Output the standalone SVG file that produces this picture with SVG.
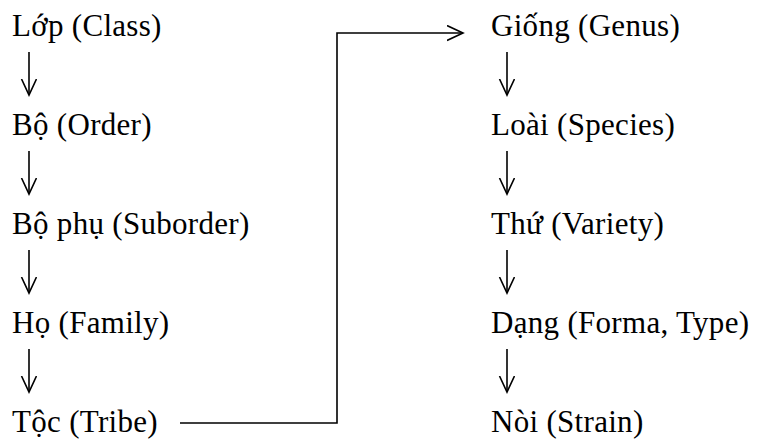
<svg xmlns="http://www.w3.org/2000/svg" width="757" height="440" viewBox="0 0 757 440">
<style>
.t{font-family:'Liberation Serif','Times New Roman',serif;font-size:31px;letter-spacing:0.3px;fill:#000}
.c{fill:none;stroke:#000;stroke-width:1.6}
</style>
<defs>
<marker id="ah" markerWidth="18" markerHeight="18" refX="16" refY="8" orient="auto" markerUnits="userSpaceOnUse">
<path d="M0,0.5 L16,8 L0,15.5" fill="none" stroke="#000" stroke-width="1.6"/>
</marker>
</defs>
<rect width="757" height="440" fill="#fff"/>
<g class="t">
<g id="n-lop"><text x="12" y="36">Lớp (Class)</text></g>
<g id="n-bo"><text x="12" y="135">Bộ (Order)</text></g>
<g id="n-bophu"><text x="12" y="234">Bộ phụ (Suborder)</text></g>
<g id="n-ho"><text x="12" y="333">Họ (Family)</text></g>
<g id="n-toc"><text x="12" y="432">Tộc (Tribe)</text></g>
<g id="n-giong"><text x="491" y="36">Giống (Genus)</text></g>
<g id="n-loai"><text x="491" y="135">Loài (Species)</text></g>
<g id="n-thu"><text x="491" y="234">Thứ (Variety)</text></g>
<g id="n-dang"><text x="491" y="333">Dạng (Forma, Type)</text></g>
<g id="n-noi"><text x="491" y="432">Nòi (Strain)</text></g>
</g>
<g id="connectors">
<path class="c" d="M29,52 V95" marker-end="url(#ah)"/>
<path class="c" d="M29,151 V194" marker-end="url(#ah)"/>
<path class="c" d="M29,250 V293" marker-end="url(#ah)"/>
<path class="c" d="M29,349 V392" marker-end="url(#ah)"/>
<path class="c" d="M507,52 V95" marker-end="url(#ah)"/>
<path class="c" d="M507,151 V194" marker-end="url(#ah)"/>
<path class="c" d="M507,250 V293" marker-end="url(#ah)"/>
<path class="c" d="M507,349 V392" marker-end="url(#ah)"/>
<path class="c" d="M180,423 H337 V33 H463" marker-end="url(#ah)"/>
</g>
</svg>
